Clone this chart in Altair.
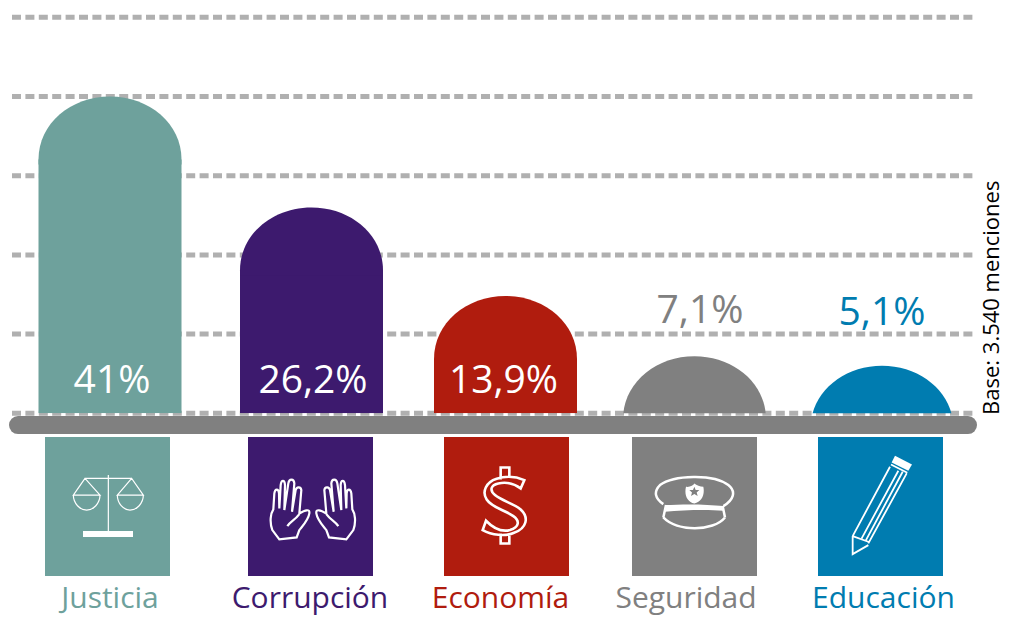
import re
import altair as alt
import pandas as pd

categories = ["Justicia", "Corrupción", "Economía", "Seguridad", "Educación"]
bar_heights = [40.0, 26.0, 14.8, 7.2, 6.0]
value_labels = ["41%", "26,2%", "13,9%", "7,1%", "5,1%"]
colors = ["#6ea19c", "#3d1a6e", "#b01c0e", "#808080", "#007cb0"]
label_colors = ["#ffffff", "#ffffff", "#ffffff", "#808080", "#007cb0"]
value_label_y = [2.56, 2.56, 2.56, 11.4, 11.2]
grid_values = [0, 10, 20, 30, 40, 50]
icon_stroke = [1.2, 2.2, 2.6, 2.5, 1.8]
FONT = "Open Sans"

# pixel layout of the slots (used only as scale ranges)
PLOT_LEFT = 12
bar_centers = [c - PLOT_LEFT for c in [110, 311.5, 505.5, 694.5, 882]]
value_centers = [c - PLOT_LEFT for c in [112, 313, 503.5, 700, 882]]
icon_centers = [c - PLOT_LEFT for c in [107.5, 310.5, 506.5, 694.5, 880.5]]
name_centers = [c - PLOT_LEFT for c in [110, 310, 500.5, 686, 883.5]]
slots = list(range(len(categories)))


def rel(path, cx, cy=229.5, mirror=None):
    """Re-centre an icon path drawn in 3x crop coordinates."""
    def sub(m):
        x, y = float(m.group(1)), float(m.group(2))
        if mirror is not None:
            x = mirror - x
        return f"{x - cx:.1f},{y - cy:.1f}"
    return re.sub(r"(-?[\d.]+),(-?[\d.]+)", sub, path)


hand = ("M718,328 L697,300 C688,275 692,250 700,238 L703,190 C705,175 716,175 717,190 L718,235 "
        "L722,165 C724,148 734,148 735,165 L733,240 L745,160 C747,145 762,145 763,160 L756,245 "
        "L767,180 C770,168 783,170 784,180 L778,250 C795,240 810,235 808,250 C805,270 790,285 778,300 "
        "L770,322 Z M742,288 C750,275 765,270 778,252")

icon_lines = [
    rel("M205,135 L205,303 M135,145 L275,145 M135,145 L100,195 L180,195 Z "
        "M100,195 C100,220 120,240 140,240 C160,240 180,220 180,195 "
        "M275,145 L232,195 L310,195 Z M232,195 C232,220 250,240 270,240 C290,240 310,220 310,195", 202.5),
    rel(hand, 811.5) + " " + rel(hand, 811.5, mirror=1637),
    rel("M283,150 C255,138 225,138 200,146 C168,156 155,185 170,208 C185,232 225,240 250,258 "
        "C270,272 268,292 240,300 C215,306 190,295 168,272 L158,300 C185,315 225,320 252,308 "
        "C290,295 298,262 272,238 C250,220 215,212 195,195 C178,180 182,165 205,160 "
        "C230,155 255,162 272,175 Z M212,148 L212,112 L238,112 L238,142 M212,310 L212,340 L238,340 L238,312", 229.5 + 0),
    rel("M700,222 C675,205 670,185 690,165 C730,135 850,130 895,165 C920,185 910,210 880,228 "
        "M700,262 C740,305 850,305 885,262 M708,225 L700,262 M878,228 L885,262", 793.5),
    rel("M393,103 L442,128 M390,110 L278,318 M440,130 L325,340 M278,318 L278,372 L325,345 "
        "M278,318 L325,335 M415,122 L305,325 M428,125 L318,330", 361.5),
]
icon_fills = [
    rel("M129,303 L279,303 L279,321 L129,321 Z", 202.5),
    "",
    "",
    rel("M705,225 C760,222 830,222 880,228 L880,242 C830,238 760,240 705,245 Z "
        "M768,170 C780,172 790,165 793,160 C800,165 810,170 820,170 C825,195 815,215 793,220 C772,215 762,195 768,170 Z "
        "M793,170 L789,180 L778,180 L786,187 L783,198 L793,192 L803,198 L800,187 L808,180 L797,180 Z", 793.5),
    rel("M405,77 L456,103 L445,122 L395,97 Z", 361.5),
]

df = pd.DataFrame({
    "slot": slots, "cat": categories, "bar": bar_heights, "label": value_labels,
    "color": colors, "label_color": label_colors, "label_y": value_label_y,
    "line": icon_lines, "fillpath": icon_fills, "sw": icon_stroke,
})
grid_df = pd.DataFrame({"g": grid_values})


def xs(centers):
    return alt.X("slot:Q", scale=alt.Scale(domain=slots, range=centers, padding=0), axis=None)


y_scale = alt.Scale(domain=[0, 50], nice=False)
color = alt.Color("color:N", scale=None, legend=None)

DOME = "M-1,0.88 C-1,0.38 -0.55,0 0,0 C0.55,0 1,0.38 1,0.88 L1,0.95 L-1,0.95 Z"

grid = alt.Chart(grid_df).mark_rule(color="#b0b0b0", strokeWidth=5, strokeDash=[9, 4.4]).encode(
    x=alt.value(0), x2=alt.value(964), y=alt.Y("g:Q", scale=y_scale, axis=None))

body = alt.Chart(df).mark_bar(size=143, clip=True, yOffset=63).encode(
    x=xs(bar_centers), y=alt.Y("bar:Q"), y2=alt.datum(0), color=color)
dome = alt.Chart(df).mark_point(filled=True, opacity=1, clip=True, shape=DOME, size=143 ** 2).encode(
    x=xs(bar_centers), y=alt.Y("bar:Q"), color=color)

base = alt.Chart(df.head(1)).mark_rule(color="#808080", strokeWidth=18, strokeCap="round").encode(
    x=alt.value(6), x2=alt.value(956), y=alt.datum(-1.48))

values = alt.Chart(df).mark_text(font=FONT, fontSize=39, baseline="alphabetic", align="center").encode(
    x=xs(value_centers), y=alt.Y("label_y:Q"), text="label:N",
    color=alt.Color("label_color:N", scale=None, legend=None))

tiles = alt.Chart(df).mark_bar(size=125).encode(
    x=xs(icon_centers), y=alt.datum(-2.99), y2=alt.datum(-20.54), color=color)

glyph_lines = alt.Chart(df).mark_point(filled=False, opacity=1, size=4 / 9, stroke="#ffffff").encode(
    x=xs(icon_centers), y=alt.datum(-11.78),
    shape=alt.Shape("line:N", scale=None, legend=None),
    strokeWidth=alt.StrokeWidth("sw:Q", scale=None, legend=None))
glyph_fills = alt.Chart(df).transform_filter("datum.fillpath != ''").mark_point(
    filled=True, opacity=1, size=4 / 9, color="#ffffff").encode(
    x=xs(icon_centers), y=alt.datum(-11.78), shape=alt.Shape("fillpath:N", scale=None, legend=None))

names = alt.Chart(df).mark_text(font=FONT, fontSize=30, baseline="alphabetic", align="center").encode(
    x=xs(name_centers), y=alt.datum(-24.58), text="cat:N", color=color)

note = alt.Chart(df.head(1)).transform_calculate(t="'Base: 3.540 menciones'").mark_text(
    font=FONT, fontSize=22, angle=270, align="left", baseline="alphabetic", color="#000000").encode(
    x=alt.value(987.5), y=alt.datum(-0.2), text="t:N")

chart = alt.layer(grid, body, dome, base, values, tiles, glyph_lines, glyph_fills, names, note).resolve_scale(
    x="independent"
).properties(
    width=964, height=396,
    padding={"left": 4, "top": 9.3, "right": 30, "bottom": 205},
    autosize=alt.AutoSizeParams(type="none"),
).configure_view(stroke=None)

chart.save("out.html", embed_options={"renderer": "svg", "actions": False})
